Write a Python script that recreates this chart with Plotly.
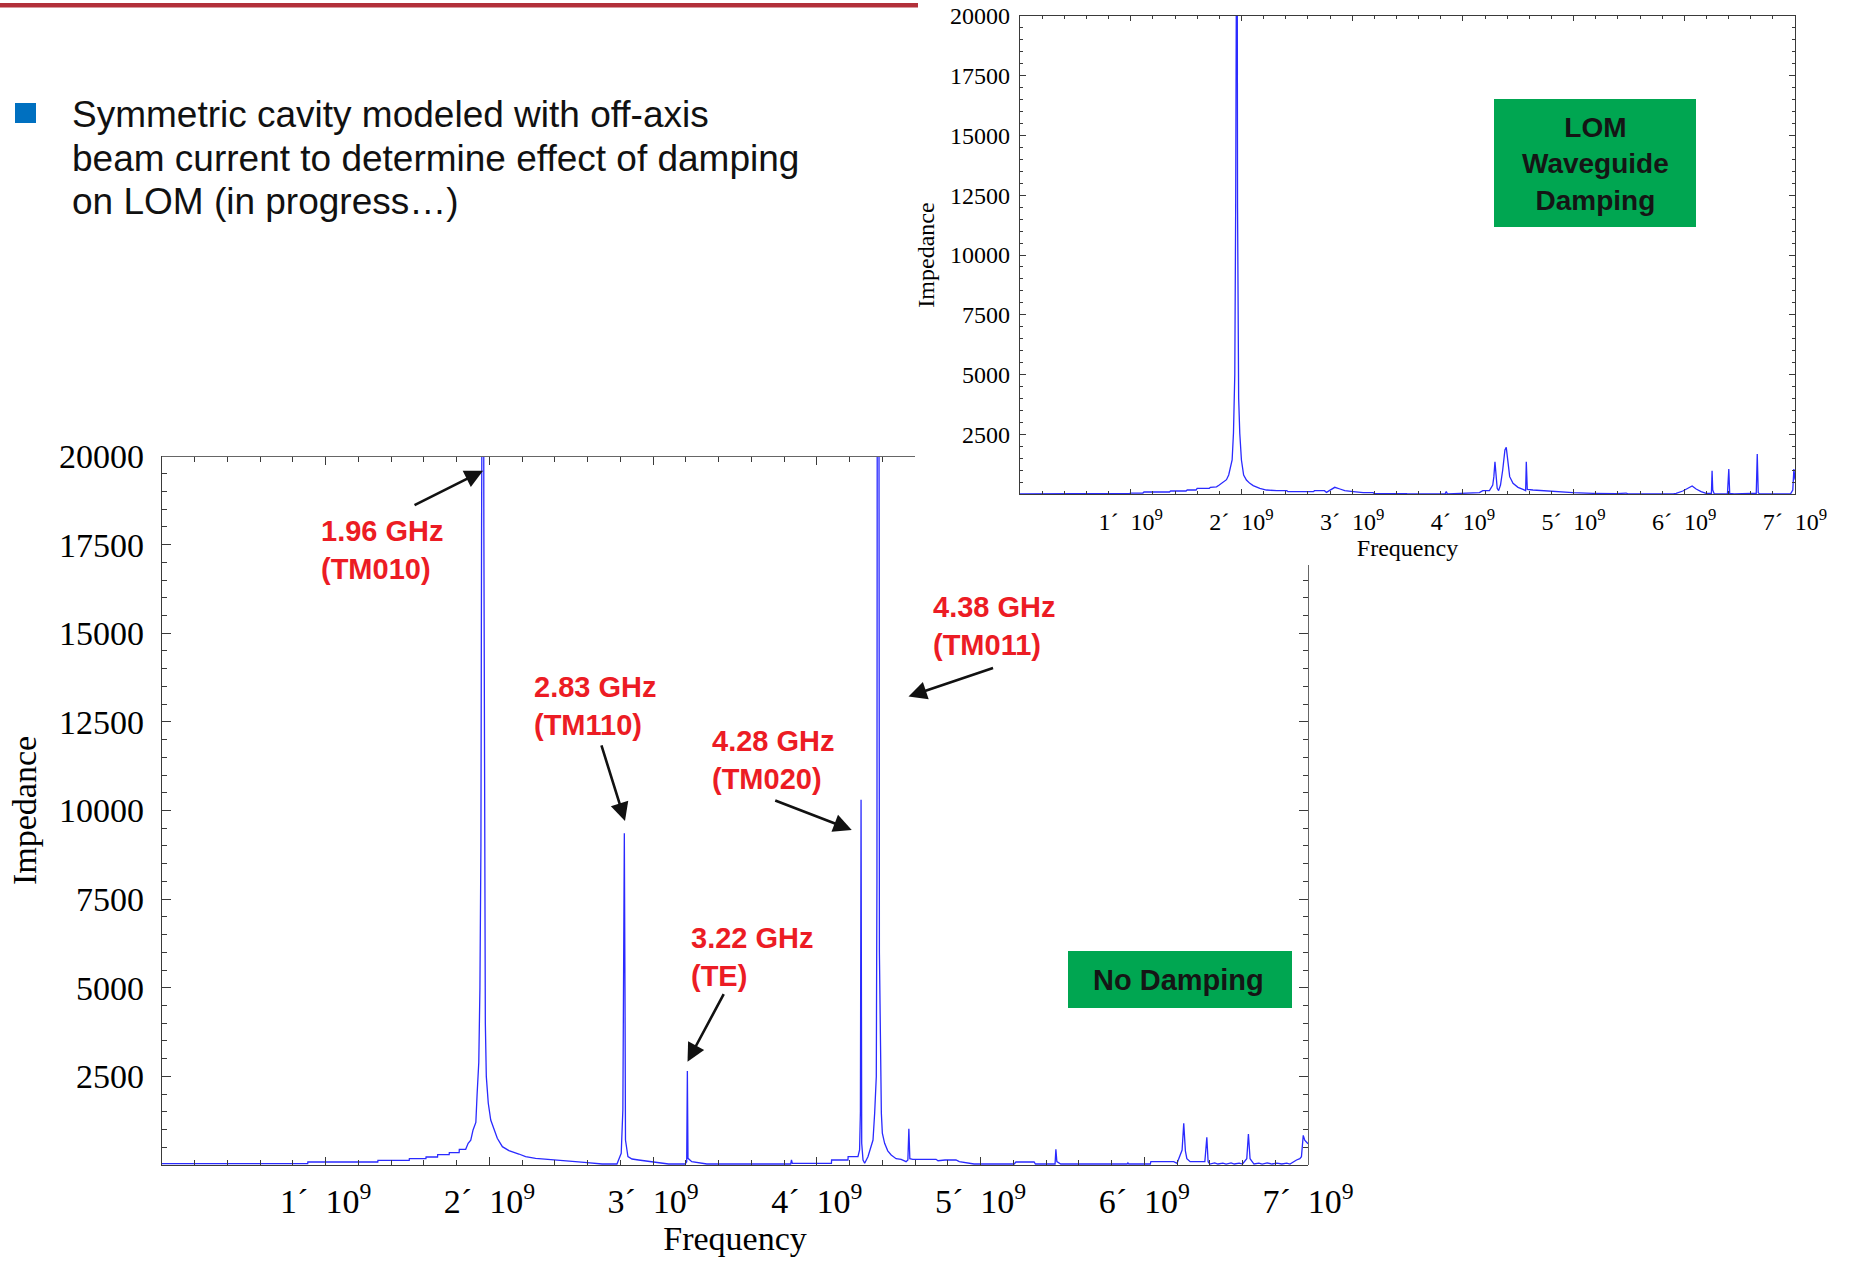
import plotly.graph_objects as go

# ---------------- data (frequency in GHz, impedance) ----------------
main_freq_ghz = [
    0.00, 0.89, 0.891, 1.318, 1.319, 1.51, 1.511, 1.612, 1.613, 1.683, 1.684, 1.754,
    1.755, 1.815, 1.816, 1.855, 1.87, 1.886, 1.90, 1.917, 1.925, 1.935, 1.942, 1.948,
    1.952, 1.956, 1.962, 1.966, 1.970, 1.975, 1.981, 1.993, 2.008, 2.028, 2.048, 2.079,
    2.119, 2.18, 2.221, 2.282, 2.383, 2.525, 2.597, 2.688, 2.779, 2.789, 2.805, 2.815,
    2.820, 2.824, 2.828, 2.831, 2.846, 2.871, 2.911, 2.992, 3.094, 3.195, 3.205, 3.209,
    3.213, 3.236, 3.328, 3.84, 3.845, 3.85, 4.089, 4.09, 4.19, 4.191, 4.251, 4.261,
    4.266, 4.270, 4.274, 4.282, 4.292, 4.312, 4.343, 4.353, 4.363, 4.367, 4.370, 4.378,
    4.382, 4.394, 4.40, 4.414, 4.433, 4.454, 4.484, 4.515, 4.545, 4.556, 4.562, 4.568,
    4.586, 4.728, 4.74, 4.783, 4.85, 4.87, 4.96, 5.205, 5.216, 5.327, 5.335, 5.455,
    5.46, 5.466, 5.49, 5.895, 5.90, 5.905, 6.037, 6.04, 6.18, 6.20, 6.231, 6.241,
    6.251, 6.26, 6.28, 6.37, 6.382, 6.39, 6.40, 6.43, 6.45, 6.48, 6.50, 6.53,
    6.55, 6.58, 6.60, 6.626, 6.636, 6.646, 6.67, 6.70, 6.72, 6.75, 6.78, 6.81,
    6.84, 6.87, 6.89, 6.93, 6.95, 6.96, 6.971, 6.98, 7.0,
]
main_impedance = [
    38, 38, 85, 85, 132, 132, 179, 179, 225, 225, 290, 290,
    348, 348, 442, 442, 611, 700, 988, 1200, 2023, 2900, 5000, 9000,
    18000, 32000, 32000, 18000, 8000, 4000, 2492, 1741, 1270, 988, 752, 517,
    405, 310, 235, 188, 141, 94, 66, 28, 28, 141, 329, 1552,
    5000, 9360, 5000, 705, 235, 169, 141, 94, 28, 28, 94, 2650,
    188, 94, 28, 28, 141, 47, 47, 141, 141, 235, 235, 423,
    1500, 10300, 611, 141, 47, 235, 705, 1458, 2490, 8000, 30000, 30000,
    6000, 1458, 900, 611, 400, 282, 179, 160, 94, 141, 1025, 179,
    160, 160, 120, 141, 141, 94, 28, 28, 85, 85, 28, 28,
    442, 94, 28, 28, 60, 28, 28, 94, 94, 47, 423, 1175,
    400, 179, 94, 94, 780, 94, 28, 60, 28, 55, 28, 60,
    28, 50, 28, 179, 874, 179, 28, 55, 28, 60, 28, 50,
    28, 55, 28, 141, 179, 235, 837, 700, 600,
]

inset_freq_ghz = [
    0.0, 0.6, 0.61, 0.99, 1.0, 1.11, 1.12, 1.35, 1.36, 1.5, 1.51, 1.59,
    1.6, 1.71, 1.72, 1.775, 1.80, 1.83, 1.865, 1.885, 1.90, 1.916, 1.928, 1.94,
    1.948, 1.953, 1.960, 1.965, 1.975, 1.985, 2.0, 2.02, 2.045, 2.076, 2.106, 2.166,
    2.226, 2.32, 2.41, 2.42, 2.65, 2.66, 2.75, 2.768, 2.80, 2.843, 2.89, 2.933,
    3.01, 3.1, 3.19, 3.2, 3.49, 3.5, 3.84, 3.85, 3.86, 4.0, 4.06, 4.15,
    4.18, 4.24, 4.27, 4.28, 4.29, 4.30, 4.31, 4.323, 4.34, 4.36, 4.38, 4.392,
    4.405, 4.423, 4.453, 4.498, 4.543, 4.567, 4.573, 4.582, 4.633, 4.783, 4.994, 5.175,
    5.385, 5.475, 5.49, 5.9, 5.926, 5.987, 6.047, 6.071, 6.107, 6.152, 6.197, 6.245,
    6.251, 6.257, 6.27, 6.39, 6.402, 6.41, 6.45, 6.5, 6.55, 6.6, 6.65, 6.659,
    6.668, 6.68, 6.96, 6.98, 6.99, 7.0,
]
inset_impedance = [
    5, 5, 28, 28, 40, 40, 84, 84, 126, 126, 167, 167,
    237, 237, 279, 300, 377, 480, 600, 795, 1100, 1423, 2538, 5000,
    12000, 30000, 30000, 12000, 4000, 2538, 1423, 795, 586, 446, 350, 237,
    167, 140, 140, 98, 98, 140, 140, 70, 167, 279, 209, 140,
    98, 56, 56, 14, 14, 5, 5, 98, 5, 28, 56, 56,
    140, 140, 377, 725, 1351, 725, 237, 140, 377, 1005, 1841, 1953,
    1493, 725, 446, 279, 195, 140, 1351, 195, 167, 112, 56, 28,
    14, 40, 5, 5, 28, 126, 279, 335, 209, 98, 28, 28,
    976, 167, 14, 5, 1046, 28, 5, 20, 5, 20, 28, 1674,
    56, 5, 5, 167, 1046, 600,
]

x_tick_values_ghz = [1, 2, 3, 4, 5, 6, 7]
x_tick_labels = [f"{v}\u00b4\u00a0\u00a010<sup>9</sup>" for v in x_tick_values_ghz]
y_tick_values = [2500, 5000, 7500, 10000, 12500, 15000, 17500, 20000]
y_tick_labels = [str(v) for v in y_tick_values]

peak_labels = ["1.96 GHz<br>(TM010)", "2.83 GHz<br>(TM110)", "3.22 GHz<br>(TE)",
               "4.28 GHz<br>(TM020)", "4.38 GHz<br>(TM011)"]

bullet_lines = ["Symmetric cavity modeled with off-axis",
                "beam current to determine effect of damping",
                "on LOM (in progress\u2026)"]

# ---------------- layout helpers ----------------
W, H = 1849, 1261
def px(x):
    return x / W
def py(y):
    return 1 - y / H

GHZ = 1e9
main_x = [f * GHZ for f in main_freq_ghz]
inset_x = [f * GHZ for f in inset_freq_ghz]

SERIF = "Liberation Serif"
SANS = "Liberation Sans"
LINE = "#2a2aff"
AXC = "#3a3a3a"

fig = go.Figure()
fig.add_trace(go.Scatter(x=main_x, y=main_impedance, mode="lines",
                         line=dict(color=LINE, width=1.3), showlegend=False,
                         xaxis="x", yaxis="y", hoverinfo="x+y"))
fig.add_trace(go.Scatter(x=inset_x, y=inset_impedance, mode="lines",
                         line=dict(color=LINE, width=1.3), showlegend=False,
                         xaxis="x2", yaxis="y2", hoverinfo="x+y"))
# empty trace to activate the partial frame axes of the main plot
fig.add_trace(go.Scatter(x=[None], y=[None], mode="lines", showlegend=False,
                         xaxis="x3", yaxis="y3", hoverinfo="skip"))

main_left, main_right, main_top, main_bottom = 162, 1308, 456, 1165
px_per_ghz = (main_right - main_left) / 7.0
px_per_unit = (main_bottom - main_top) / 20000.0
cut_x, cut_y = 915, 565

tick_common = dict(showgrid=False, zeroline=False, showline=True, linecolor=AXC,
                   ticks="inside", tickcolor=AXC, automargin=False)

fig.update_layout(
    width=W, height=H, margin=dict(l=0, r=0, t=0, b=0, autoexpand=False),
    paper_bgcolor="white", plot_bgcolor="rgba(0,0,0,0)",
    xaxis=dict(domain=[px(main_left), px(main_right)], range=[0, 7 * GHZ], anchor="y",
               tickmode="array", tickvals=[v * GHZ for v in x_tick_values_ghz],
               ticktext=x_tick_labels, ticklen=8, tickwidth=1.2, linewidth=1.4,
               minor=dict(ticks="inside", tickmode="linear", tick0=0, dtick=0.2 * GHZ,
                          ticklen=4.5, tickcolor=AXC, tickwidth=1),
               tickfont=dict(family=SERIF, size=34, color="black"),
               ticklabelstandoff=6,
               title=dict(text="Frequency", font=dict(family=SERIF, size=34, color="black"),
                          standoff=6),
               **tick_common),
    yaxis=dict(domain=[py(main_bottom), py(main_top)], range=[0, 20000], anchor="x",
               tickmode="array", tickvals=y_tick_values, ticktext=y_tick_labels,
               ticklen=9, tickwidth=1.2, linewidth=1.4,
               minor=dict(ticks="inside", tickmode="linear", tick0=0, dtick=500,
                          ticklen=4.5, tickcolor=AXC, tickwidth=1),
               tickfont=dict(family=SERIF, size=34, color="black"),
               ticklabelstandoff=10,
               title=dict(text="Impedance", font=dict(family=SERIF, size=34, color="black"),
                          standoff=12),
               **tick_common),
    xaxis3=dict(domain=[px(main_left), px(cut_x)],
                range=[0, (cut_x - main_left) / px_per_ghz * GHZ],
                anchor="free", position=py(main_top), side="top", showticklabels=False,
                tickmode="linear", tick0=0, dtick=GHZ, ticklen=8, tickwidth=1.2, linewidth=1.4,
                linecolor="#666", automargin=False,
                minor=dict(ticks="inside", tickmode="linear", tick0=0, dtick=0.2 * GHZ,
                           ticklen=4.5, tickcolor=AXC, tickwidth=1),
                showgrid=False, zeroline=False, showline=True, ticks="inside", tickcolor=AXC),
    yaxis3=dict(domain=[py(main_bottom), py(cut_y)],
                range=[0, (main_bottom - cut_y) / px_per_unit],
                anchor="free", position=px(main_right), side="right", showticklabels=False,
                tickmode="linear", tick0=0, dtick=2500, ticklen=9, tickwidth=1.2, linewidth=1.4,
                linecolor="#666", automargin=False,
                minor=dict(ticks="inside", tickmode="linear", tick0=0, dtick=500,
                           ticklen=4.5, tickcolor=AXC, tickwidth=1),
                showgrid=False, zeroline=False, showline=True, ticks="inside", tickcolor=AXC),
    xaxis2=dict(domain=[px(1020), px(1795)], range=[0, 7 * GHZ], anchor="y2", mirror="ticks",
                tickmode="array", tickvals=[v * GHZ for v in x_tick_values_ghz],
                ticktext=x_tick_labels, ticklen=5, tickwidth=1, linewidth=1.2,
                minor=dict(ticks="inside", tickmode="linear", tick0=0, dtick=0.2 * GHZ,
                           ticklen=3, tickcolor=AXC, tickwidth=1),
                tickfont=dict(family=SERIF, size=24, color="black"),
                ticklabelstandoff=6,
                title=dict(text="Frequency", font=dict(family=SERIF, size=24, color="black"),
                           standoff=4),
                **tick_common),
    yaxis2=dict(domain=[py(494), py(16)], range=[0, 20000], anchor="x2", mirror="ticks",
                tickmode="array", tickvals=y_tick_values, ticktext=y_tick_labels,
                ticklen=6, tickwidth=1, linewidth=1.2,
                minor=dict(ticks="inside", tickmode="linear", tick0=0, dtick=500,
                           ticklen=3, tickcolor=AXC, tickwidth=1),
                tickfont=dict(family=SERIF, size=24, color="black"),
                ticklabelstandoff=4,
                title=dict(text="Impedance", font=dict(family=SERIF, size=24, color="black"),
                           standoff=8),
                **tick_common),
)

# ---------------- decorations ----------------
shapes = [
    dict(type="rect", xref="paper", yref="paper", x0=px(0), x1=px(918), y0=py(3), y1=py(7.5),
         fillcolor="#B2303A", line=dict(width=0), layer="above"),
    dict(type="rect", xref="paper", yref="paper", x0=px(15), x1=px(36), y0=py(123), y1=py(103),
         fillcolor="#0070C0", line=dict(width=0), layer="above"),
    dict(type="rect", xref="paper", yref="paper", x0=px(1068), x1=px(1292), y0=py(1008), y1=py(951),
         fillcolor="#00A651", line=dict(width=0), layer="above"),
    dict(type="rect", xref="paper", yref="paper", x0=px(1494), x1=px(1696), y0=py(227), y1=py(99),
         fillcolor="#00A651", line=dict(width=0), layer="above"),
]
fig.update_layout(shapes=shapes)

annotations = []
for line_text, yc in zip(bullet_lines, [114, 158, 202]):
    annotations.append(dict(text=line_text, xref="paper", yref="paper", x=px(70), y=py(yc),
                            xanchor="left", yanchor="middle", showarrow=False,
                            font=dict(family=SANS, size=37, color="#111111")))

annotations.append(dict(text="No Damping", xref="paper", yref="paper", x=px(1178), y=py(980),
                        xanchor="center", yanchor="middle", showarrow=False,
                        font=dict(family=SANS, size=29, color="#151515", weight="bold")))
annotations.append(dict(text="LOM<br>Waveguide<br>Damping", xref="paper", yref="paper",
                        x=px(1595), y=py(164), xanchor="center", yanchor="middle",
                        showarrow=False, align="center",
                        font=dict(family=SANS, size=28, color="#151515", weight="bold")))

# peak labels: left edge / vertical centre in data units of the main axes
label_pos = [(0.960, 17336), (2.262, 12937), (3.218, 5869), (3.347, 11414), (4.700, 15195)]
for txt, (lx, ly) in zip(peak_labels, label_pos):
    annotations.append(dict(text=txt, xref="x", yref="y", x=lx * GHZ, y=ly,
                            xanchor="left", yanchor="middle", align="left", showarrow=False,
                            font=dict(family=SANS, size=29, color="#EC1C24", weight="bold")))

# arrows: tip in data units, tail as pixel offset (screen y downward)
arrow_tips = [(1.961, 19582), (2.828, 9706), (3.210, 2915), (4.213, 9453), (4.560, 13214)]
arrow_tails = [(-70, 35), (-24, -77), (37, -69), (-78, -30), (86, -29)]
for (tx, ty), (ax, ay) in zip(arrow_tips, arrow_tails):
    annotations.append(dict(text="", xref="x", yref="y", x=tx * GHZ, y=ty, ax=ax, ay=ay,
                            showarrow=True, arrowhead=2, arrowsize=1.4, arrowwidth=2.6,
                            arrowcolor="#111111", standoff=0))
fig.update_layout(annotations=annotations)

fig.write_html("out.html", config={"displayModeBar": False},
               post_script="document.body.style.margin='0';document.body.style.overflow='hidden';")
